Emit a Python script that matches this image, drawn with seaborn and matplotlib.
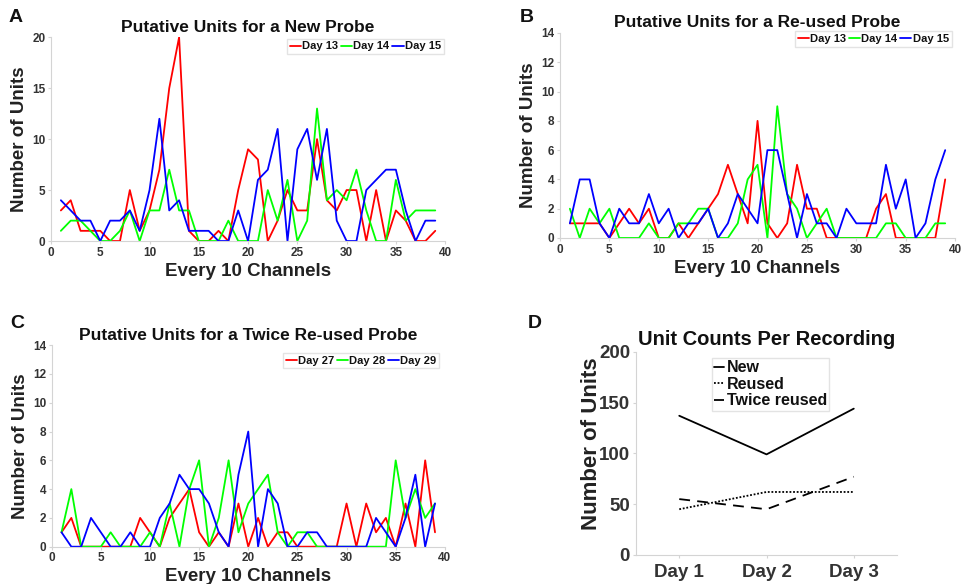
import matplotlib
matplotlib.use("Agg")
import matplotlib.pyplot as plt
import numpy as np
import pandas as pd
import seaborn as sns

# ---- data ----
channels = list(range(1, 40))

new_day13 = [3, 4, 1, 1, 1, 0, 0, 5, 1, 3, 7, 15, 20, 1, 0, 0, 1, 0, 5, 9,
             8, 0, 2, 5, 3, 3, 10, 4, 3, 5, 5, 0, 5, 0, 3, 2, 0, 0, 1]
new_day14 = [1, 2, 2, 1, 0, 0, 1, 3, 0, 3, 3, 7, 3, 3, 0, 0, 0, 2, 0, 0,
             0, 5, 2, 6, 0, 2, 13, 4, 5, 4, 7, 3, 0, 0, 6, 2, 3, 3, 3]
new_day15 = [4, 3, 2, 2, 0, 2, 2, 3, 1, 5, 12, 3, 4, 1, 1, 1, 0, 0, 3, 0,
             6, 7, 11, 0, 9, 11, 6, 11, 2, 0, 0, 5, 6, 7, 7, 3, 0, 2, 2]

reused_day13 = [1, 1, 1, 1, 0, 1, 2, 1, 2, 0, 0, 1, 0, 1, 2, 3, 5, 3, 1, 8,
                1, 0, 1, 5, 2, 2, 0, 0, 0, 0, 0, 2, 3, 0, 0, 0, 0, 0, 4]
reused_day14 = [2, 0, 2, 1, 2, 0, 0, 0, 1, 0, 0, 1, 1, 2, 2, 0, 0, 1, 4, 5,
                0, 9, 3, 2, 0, 1, 2, 0, 0, 0, 0, 0, 1, 1, 0, 0, 0, 1, 1]
reused_day15 = [1, 4, 4, 1, 0, 2, 1, 1, 3, 1, 2, 0, 1, 1, 2, 0, 1, 3, 2, 1,
                6, 6, 3, 0, 3, 1, 1, 0, 2, 1, 1, 1, 5, 2, 4, 0, 1, 4, 6]

twice_day27 = [1, 2, 0, 0, 0, 0, 0, 0, 2, 1, 0, 2, 3, 4, 1, 0, 1, 0, 3, 0,
               2, 0, 1, 1, 0, 0, 0, 0, 0, 3, 0, 3, 1, 2, 0, 3, 0, 6, 1]
twice_day28 = [1, 4, 0, 0, 0, 1, 0, 0, 0, 1, 0, 3, 0, 4, 6, 0, 2, 6, 1, 3,
               4, 5, 1, 0, 1, 1, 0, 0, 0, 0, 0, 0, 0, 0, 6, 2, 4, 2, 3]
twice_day29 = [1, 0, 0, 2, 1, 0, 0, 1, 0, 0, 2, 3, 5, 4, 4, 3, 1, 0, 5, 8,
               0, 4, 3, 0, 0, 1, 1, 0, 0, 0, 0, 0, 2, 1, 0, 2, 5, 0, 3]

days = ["Day 1", "Day 2", "Day 3"]
count_new = [137, 99, 144]
count_reused = [45, 62, 62]
count_twice = [55, 45, 77]

line_colors = ["#ff0000", "#00ff00", "#0000ff"]
grey = "#d4d4d4"
tick_text = "#333333"

sns.set_theme(style="white")
plt.rcParams["font.family"] = ["Liberation Sans", "DejaVu Sans"]
plt.rcParams["font.weight"] = "bold"
plt.rcParams["axes.labelweight"] = "bold"
plt.rcParams["axes.titleweight"] = "bold"
plt.rcParams["text.color"] = "#111111"
plt.rcParams["axes.labelcolor"] = "#222222"


def long_frame(series, names):
    rows = []
    for name, vals in zip(names, series):
        for ch, v in zip(channels, vals):
            rows.append({"channel": ch, "units": v, "day": name})
    return pd.DataFrame(rows)


def style_axis(ax, tick_size=8.5):
    for side in ["top", "right"]:
        ax.spines[side].set_visible(False)
    for side in ["left", "bottom"]:
        ax.spines[side].set_color(grey)
        ax.spines[side].set_linewidth(0.8)
    ax.tick_params(axis="both", direction="out", length=2.5, width=0.8, color=grey,
                   labelsize=tick_size, labelcolor=tick_text, pad=1.5,
                   left=True, bottom=True)
    for lab in ax.get_xticklabels() + ax.get_yticklabels():
        lab.set_fontweight("bold")


def channel_panel(ax, series, names, ymax, yticks, title, legend_anchor):
    df = long_frame(series, names)
    sns.lineplot(data=df, x="channel", y="units", hue="day", palette=line_colors,
                 linewidth=1.3, ax=ax, legend=True)
    ax.set_xlim(0, 40)
    ax.set_ylim(0, ymax)
    ax.set_xticks(range(0, 41, 5))
    ax.set_yticks(yticks)
    ax.set_xlabel("Every 10 Channels", fontsize=13.5, labelpad=3)
    ax.set_ylabel("Number of Units", fontsize=13.5, labelpad=3)
    ax.set_title(title, fontsize=12.5, pad=4)
    style_axis(ax)
    handles, labels = ax.get_legend_handles_labels()
    ax.legend(handles, labels, loc="upper right", bbox_to_anchor=legend_anchor,
              ncol=3, handlelength=1.0, handletextpad=0.1,
              columnspacing=0.25, borderpad=0.25, frameon=True, fancybox=False,
              edgecolor="#dddddd", prop={"weight": "bold", "size": 8})


fig = plt.figure(figsize=(9.66, 5.84), dpi=100)

ax_a = fig.add_axes([0.0528, 0.5873, 0.408, 0.349])
channel_panel(ax_a, [new_day13, new_day14, new_day15], ["Day 13", "Day 14", "Day 15"],
              20, range(0, 21, 5), "Putative Units for a New Probe", (1.01, 1.02))

ax_b = fig.add_axes([0.5797, 0.5925, 0.409, 0.351])
channel_panel(ax_b, [reused_day13, reused_day14, reused_day15], ["Day 13", "Day 14", "Day 15"],
              14, range(0, 15, 2), "Putative Units for a Re-used Probe", (1.005, 1.035))

ax_c = fig.add_axes([0.0535, 0.0639, 0.407, 0.345])
channel_panel(ax_c, [twice_day27, twice_day28, twice_day29], ["Day 27", "Day 28", "Day 29"],
              14, range(0, 15, 2), "Putative Units for a Twice Re-used Probe", (1.0, 0.99))

# ---- panel D ----
ax_d = fig.add_axes([0.658, 0.0497, 0.271, 0.348])
df_d = pd.DataFrame({
    "day": days * 3,
    "pos": [1, 2, 3] * 3,
    "count": count_new + count_reused + count_twice,
    "probe": ["New"] * 3 + ["Reused"] * 3 + ["Twice reused"] * 3,
})
sns.lineplot(data=df_d, x="pos", y="count", hue="probe", style="probe",
             palette=["black"] * 3, dashes=[(None, None), (1, 1), (6, 4)],
             linewidth=1.3, ax=ax_d)
ax_d.lines[0].set_linestyle("-")
ax_d.set_xlim(0.5, 3.5)
ax_d.set_ylim(0, 200)
ax_d.set_xticks([1, 2, 3])
ax_d.set_xticklabels(days)
ax_d.set_yticks(range(0, 201, 50))
ax_d.set_xlabel("")
ax_d.set_ylabel("Number of Units", fontsize=16)
ax_d.yaxis.set_label_coords(-0.13, 0.55)
ax_d.set_title("Unit Counts Per Recording", fontsize=14.5, pad=5)
style_axis(ax_d, tick_size=13.5)
ax_d.tick_params(axis="x", pad=4)
handles, labels = ax_d.get_legend_handles_labels()
ax_d.legend(handles, labels, loc="upper left", bbox_to_anchor=(0.26, 1.01),
            handlelength=0.6, handletextpad=0.2, borderpad=0.15,
            labelspacing=0.1, frameon=True, fancybox=False, edgecolor="#dddddd",
            prop={"weight": "bold", "size": 11.5})

# panel letters
for letter, (px, py) in zip("ABCD", [(16, 18), (527, 18), (17, 323), (535, 323)]):
    fig.text(px / 966, 1 - py / 584, letter, fontsize=14, fontweight="bold",
             ha="center", va="center")

fig.savefig("out.png", dpi=100)
